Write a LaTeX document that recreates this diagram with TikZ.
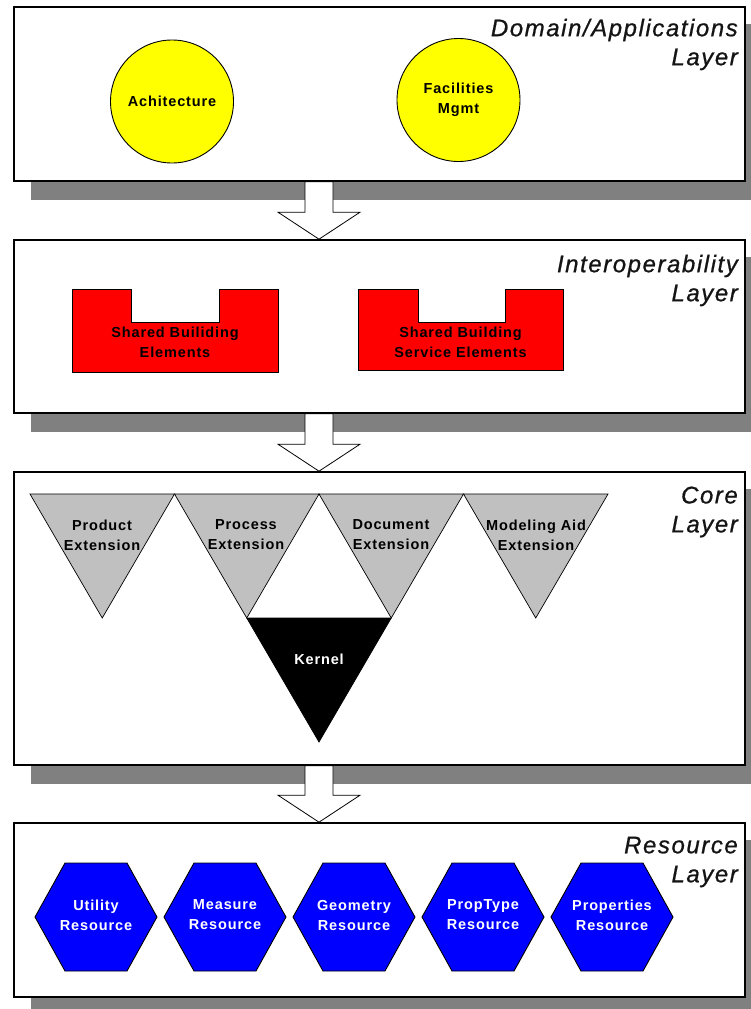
\documentclass[tikz,border=0pt]{standalone}
\usepackage{fontspec}
\setmainfont{Liberation Sans}
\newfontfamily\shapefont{Liberation Sans}[LetterSpace=6]
\newfontfamily\labelfont{Liberation Sans}[LetterSpace=6.5, FakeBold=0.8]
\usetikzlibrary{shapes.geometric,calc}
\pgfdeclarelayer{shadowlayer}
\pgfdeclarelayer{arrowlayer}
\pgfsetlayers{shadowlayer,arrowlayer,main}
\definecolor{shadowgray}{HTML}{808080}
\definecolor{extgray}{HTML}{C0C0C0}
\definecolor{appyellow}{HTML}{FFFF00}
\definecolor{interred}{HTML}{FF0000}
\definecolor{resblue}{HTML}{0000FF}
\begin{document}
\begin{tikzpicture}[x=1pt,y=-1pt,
  layerbox/.style={draw=black, line width=1.6pt, fill=white, rectangle, minimum width=731pt, inner sep=0pt},
  layerlabel/.style={anchor=east, align=right, font=\labelfont\itshape\fontsize{24}{29}\selectfont, inner sep=0pt, text=black!92},
  shapetext/.style={align=center, font=\shapefont\bfseries\fontsize{14.5}{20}\selectfont, inner sep=0pt},
  appcircle/.style={circle, draw=black, line width=0.9pt, fill=appyellow, minimum size=123pt, inner sep=0pt, shapetext},
  notchshape/.style={draw=black, line width=0.9pt, fill=interred},
  extshape/.style={draw=black, line width=0.7pt, fill=extgray},
  kernelshape/.style={draw=black, line width=0.7pt, fill=black},
  hexshape/.style={draw=black, line width=0.9pt, fill=resblue, line join=miter},
  hextext/.style={shapetext, text=white},
  blockarrow/.style={draw=black, line width=0.8pt, fill=white, line join=miter},
  shadowbox/.style={fill=shadowgray}
]
\useasboundingbox (0,0) rectangle (751,1009);
\clip (0,0) rectangle (751,1009);

% layer boxes
\node[layerbox, minimum height=174pt] (L1) at (379.5,94) {};
\node[layerbox, minimum height=173pt] (L2) at (379.5,326.5) {};
\node[layerbox, minimum height=293pt] (L3) at (379.5,618.5) {};
\node[layerbox, minimum height=174pt] (L4) at (379.5,910) {};

% shadows
\begin{pgfonlayer}{shadowlayer}
\foreach \b in {L1,L2,L3,L4}
  \fill[shadowbox] ($(\b.north west)+(18,18)$) rectangle ($(\b.south east)+(18,18)$);
\end{pgfonlayer}

% block arrows between layers
\coordinate (ax) at (319,0);
\begin{pgfonlayer}{arrowlayer}
\foreach \a/\b in {L1/L2,L2/L3,L3/L4}
  \draw[blockarrow] ($(ax|-\a.south)+(-14,0)$) -- ($(ax|-\b.north)+(-14,-27)$)
     -- ($(ax|-\b.north)+(-41,-27)$) -- (ax|-\b.north)
     -- ($(ax|-\b.north)+(41,-27)$) -- ($(ax|-\b.north)+(14,-27)$)
     -- ($(ax|-\a.south)+(14,0)$) -- cycle;
\end{pgfonlayer}

% layer labels
\node[layerlabel] (lab1) at (738,44.5) {Domain/Applications\\Layer};
\node[layerlabel] (lab2) at (738,280.5) {Interoperability\\Layer};
\node[layerlabel] (lab3) at (738,512) {Core\\Layer};
\node[layerlabel] (lab4) at (738,862) {Resource\\Layer};

% Domain / Applications layer
\node[appcircle] (arch) at (172,101.5) {Achitecture};
\node[appcircle] (fac) at (458.5,100) {Facilities\\Mgmt};

% Interoperability layer
\draw[notchshape] (72.5,289) -- (131.5,289) -- (131.5,322) -- (219,322) -- (219,289)
   -- (278,289) -- (278,372) -- (72.5,372) -- cycle;
\node[shapetext] (sbe) at (175,342) {Shared Builiding\\Elements};
\draw[notchshape] (358,289) -- (418,289) -- (418,322) -- (505,322) -- (505,289)
   -- (563,289) -- (563,370) -- (358,370) -- cycle;
\node[shapetext] (sbse) at (460.5,342) {Shared Building\\Service Elements};

% Core layer
\draw[extshape] (30,494) -- (174.5,494) -- (102.25,618) -- cycle;
\draw[extshape] (174.5,494) -- (319,494) -- (246.75,618) -- cycle;
\draw[extshape] (319,494) -- (463.5,494) -- (391.25,618) -- cycle;
\draw[extshape] (463.5,494) -- (608,494) -- (535.75,618) -- cycle;
\draw[kernelshape] (246.75,618) -- (391.25,618) -- (319,742) -- cycle;
\node[shapetext] (pext) at (102,535) {Product\\Extension};
\node[shapetext] (prext) at (246,535) {Process\\Extension};
\node[shapetext] (dext) at (391,535) {Document\\Extension};
\node[shapetext] (mext) at (536,535) {Modeling Aid\\Extension};
\node[shapetext, text=white] (kern) at (319,659) {Kernel};

% Resource layer
\foreach \cx in {96,225,354,483,612}
  \draw[hexshape] (\cx,917) ++(-61,0) -- ++(30,-54) -- ++(62,0) -- ++(30,54)
     -- ++(-30,54) -- ++(-62,0) -- cycle;
\node[hextext] (r1) at (96,915) {Utility\\Resource};
\node[hextext] (r2) at (225,915) {Measure\\Resource};
\node[hextext] (r3) at (354,915) {Geometry\\Resource};
\node[hextext] (r4) at (483,915) {PropType\\Resource};
\node[hextext] (r5) at (612,915) {Properties\\Resource};
\end{tikzpicture}
\end{document}
